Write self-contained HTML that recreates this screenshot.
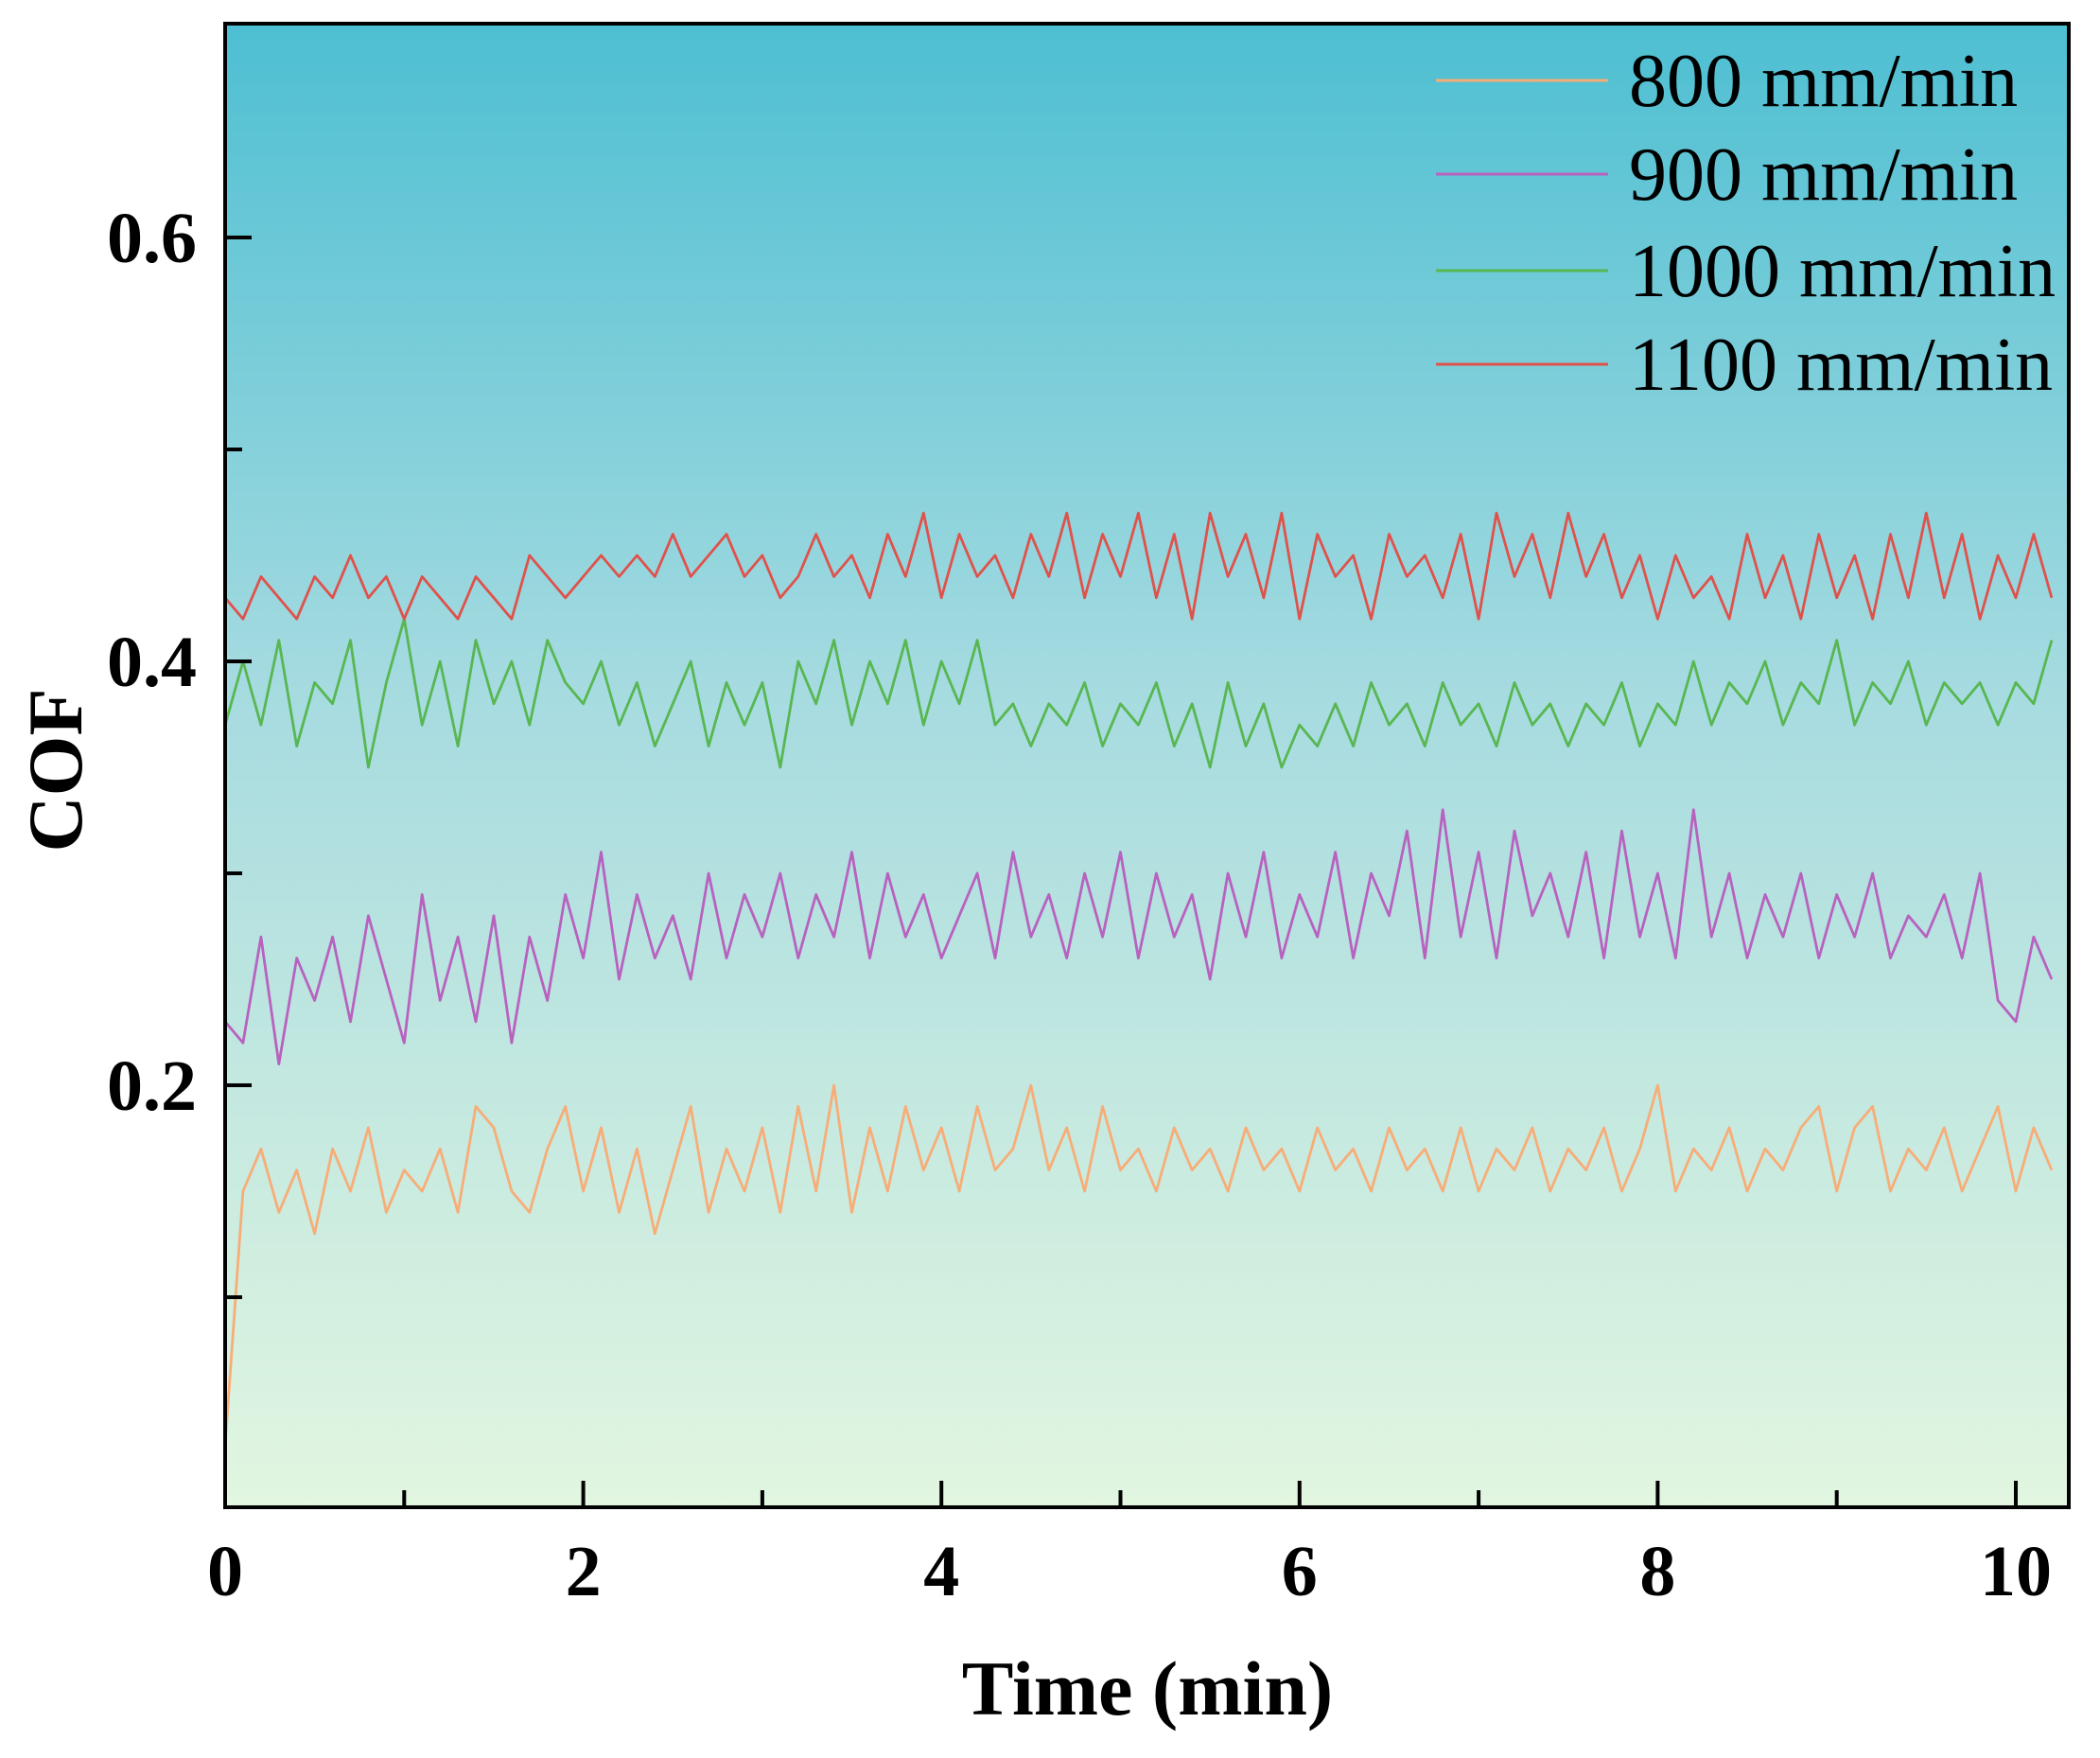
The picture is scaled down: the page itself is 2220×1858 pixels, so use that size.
<!DOCTYPE html>
<html>
<head>
<meta charset="utf-8">
<style>
html,body{margin:0;padding:0;background:#fff;}
svg{display:block;}
text{font-family:"Liberation Serif",serif;}
</style>
</head>
<body>
<svg id="chart" width="2220" height="1858" viewBox="0 0 2220 1858" xmlns="http://www.w3.org/2000/svg">
<defs>
<linearGradient id="bg" x1="0" y1="0" x2="0" y2="1">
<stop offset="0" stop-color="#4dbfd2"/>
<stop offset="0.45" stop-color="#a6dbe0"/>
<stop offset="1" stop-color="#e2f6e0"/>
</linearGradient>
</defs>
<rect x="238" y="25" width="1949" height="1568" fill="url(#bg)"/>
<g id="series"></g>
<g id="axes"></g>
<rect x="238" y="25" width="1949" height="1568" fill="none" stroke="#000" stroke-width="4"/>
<text transform="translate(86,814) rotate(-90)" text-anchor="middle" font-size="82" font-weight="bold">COF</text>
<text x="1213" y="1812" text-anchor="middle" font-size="82" font-weight="bold">Time (min)</text>
<g id="legend"></g>
</svg>
<script>
const seriesNames = ["800 mm/min","900 mm/min","1000 mm/min","1100 mm/min"];
const seriesColors = ["#f7ad78","#b862bf","#58b752","#df524c"];
const xStep = 0.1;
const s800 = [0.03,0.15,0.17,0.14,0.16,0.13,0.17,0.15,0.18,0.14,0.16,0.15,0.17,0.14,0.19,0.18,0.15,0.14,0.17,0.19,0.15,0.18,0.14,0.17,0.13,0.16,0.19,0.14,0.17,0.15,0.18,0.14,0.19,0.15,0.20,0.14,0.18,0.15,0.19,0.16,0.18,0.15,0.19,0.16,0.17,0.20,0.16,0.18,0.15,0.19,0.16,0.17,0.15,0.18,0.16,0.17,0.15,0.18,0.16,0.17,0.15,0.18,0.16,0.17,0.15,0.18,0.16,0.17,0.15,0.18,0.15,0.17,0.16,0.18,0.15,0.17,0.16,0.18,0.15,0.17,0.20,0.15,0.17,0.16,0.18,0.15,0.17,0.16,0.18,0.19,0.15,0.18,0.19,0.15,0.17,0.16,0.18,0.15,0.17,0.19,0.15,0.18,0.16];
const s900 = [0.23,0.22,0.27,0.21,0.26,0.24,0.27,0.23,0.28,0.25,0.22,0.29,0.24,0.27,0.23,0.28,0.22,0.27,0.24,0.29,0.26,0.31,0.25,0.29,0.26,0.28,0.25,0.30,0.26,0.29,0.27,0.30,0.26,0.29,0.27,0.31,0.26,0.30,0.27,0.29,0.26,0.28,0.30,0.26,0.31,0.27,0.29,0.26,0.30,0.27,0.31,0.26,0.30,0.27,0.29,0.25,0.30,0.27,0.31,0.26,0.29,0.27,0.31,0.26,0.30,0.28,0.32,0.26,0.33,0.27,0.31,0.26,0.32,0.28,0.30,0.27,0.31,0.26,0.32,0.27,0.30,0.26,0.33,0.27,0.30,0.26,0.29,0.27,0.30,0.26,0.29,0.27,0.30,0.26,0.28,0.27,0.29,0.26,0.30,0.24,0.23,0.27,0.25];
const s1000 = [0.37,0.40,0.37,0.41,0.36,0.39,0.38,0.41,0.35,0.39,0.42,0.37,0.40,0.36,0.41,0.38,0.40,0.37,0.41,0.39,0.38,0.40,0.37,0.39,0.36,0.38,0.40,0.36,0.39,0.37,0.39,0.35,0.40,0.38,0.41,0.37,0.40,0.38,0.41,0.37,0.40,0.38,0.41,0.37,0.38,0.36,0.38,0.37,0.39,0.36,0.38,0.37,0.39,0.36,0.38,0.35,0.39,0.36,0.38,0.35,0.37,0.36,0.38,0.36,0.39,0.37,0.38,0.36,0.39,0.37,0.38,0.36,0.39,0.37,0.38,0.36,0.38,0.37,0.39,0.36,0.38,0.37,0.40,0.37,0.39,0.38,0.40,0.37,0.39,0.38,0.41,0.37,0.39,0.38,0.40,0.37,0.39,0.38,0.39,0.37,0.39,0.38,0.41];
const s1100 = [0.43,0.42,0.44,0.43,0.42,0.44,0.43,0.45,0.43,0.44,0.42,0.44,0.43,0.42,0.44,0.43,0.42,0.45,0.44,0.43,0.44,0.45,0.44,0.45,0.44,0.46,0.44,0.45,0.46,0.44,0.45,0.43,0.44,0.46,0.44,0.45,0.43,0.46,0.44,0.47,0.43,0.46,0.44,0.45,0.43,0.46,0.44,0.47,0.43,0.46,0.44,0.47,0.43,0.46,0.42,0.47,0.44,0.46,0.43,0.47,0.42,0.46,0.44,0.45,0.42,0.46,0.44,0.45,0.43,0.46,0.42,0.47,0.44,0.46,0.43,0.47,0.44,0.46,0.43,0.45,0.42,0.45,0.43,0.44,0.42,0.46,0.43,0.45,0.42,0.46,0.43,0.45,0.42,0.46,0.43,0.47,0.43,0.46,0.42,0.45,0.43,0.46,0.43];
const xTicks = [0,2,4,6,8,10];
const xTickLabels = ["0","2","4","6","8","10"];
const yTicks = [0.2,0.4,0.6];
const yTickLabels = ["0.2","0.4","0.6"];

const NS = "http://www.w3.org/2000/svg";
const L=238, R=2187, T=25, B=1593;
function xs(v){ return L + v*(2131-L)/10; }
function ys(v){ return 1147 - (v-0.2)*(1147-251)/0.4; }
function mk(tag, attrs, parent){ const e=document.createElementNS(NS,tag); for(const k in attrs) e.setAttribute(k,attrs[k]); parent.appendChild(e); return e; }

const sg=document.getElementById('series');
const all=[s800,s900,s1000,s1100];
const keys=["series-800","series-900","series-1000","series-1100"];
all.forEach((arr,si)=>{
  const d=arr.map((v,i)=>(i?'L':'M')+xs(i*xStep).toFixed(1)+','+ys(v).toFixed(1)).join(' ');
  const p=mk('path',{d:d,fill:'none',stroke:seriesColors[si],'stroke-width':2.8,'stroke-linejoin':'round'},sg);
  
  
});

const ag=document.getElementById('axes');
for(let v=0;v<=10;v++){
  const major = v%2===0;
  const t=mk('line',{x1:xs(v),x2:xs(v),y1:B,y2:B-(major?28:18),stroke:'#000','stroke-width':4},ag);
  
  
}
xTicks.forEach((v,i)=>{
  const t=mk('text',{x:xs(v),y:1686,'text-anchor':'middle','font-size':76,'font-weight':'bold'},ag);
  t.textContent=xTickLabels[i];
  
  
});
for(let k=1;k<=6;k++){
  const v=k*0.1; const major=(k%2===0);
  const t=mk('line',{x1:L,x2:L+(major?28:18),y1:ys(v),y2:ys(v),stroke:'#000','stroke-width':4},ag);
  
  
}
yTicks.forEach((v,i)=>{
  const t=mk('text',{x:208,y:ys(v)+26,'text-anchor':'end','font-size':76,'font-weight':'bold'},ag);
  t.textContent=yTickLabels[i];
  
  
});

const lg=document.getElementById('legend');
const legY=[85,184,286,385];
seriesNames.forEach((n,i)=>{
  const g=mk('g',{},lg);
  
  
  mk('line',{x1:1518,x2:1700,y1:legY[i],y2:legY[i],stroke:seriesColors[i],'stroke-width':3},g);
  const t=mk('text',{x:1722,y:legY[i]+27,'font-size':80},g);
  t.textContent=n;
});
</script>
</body>
</html>
